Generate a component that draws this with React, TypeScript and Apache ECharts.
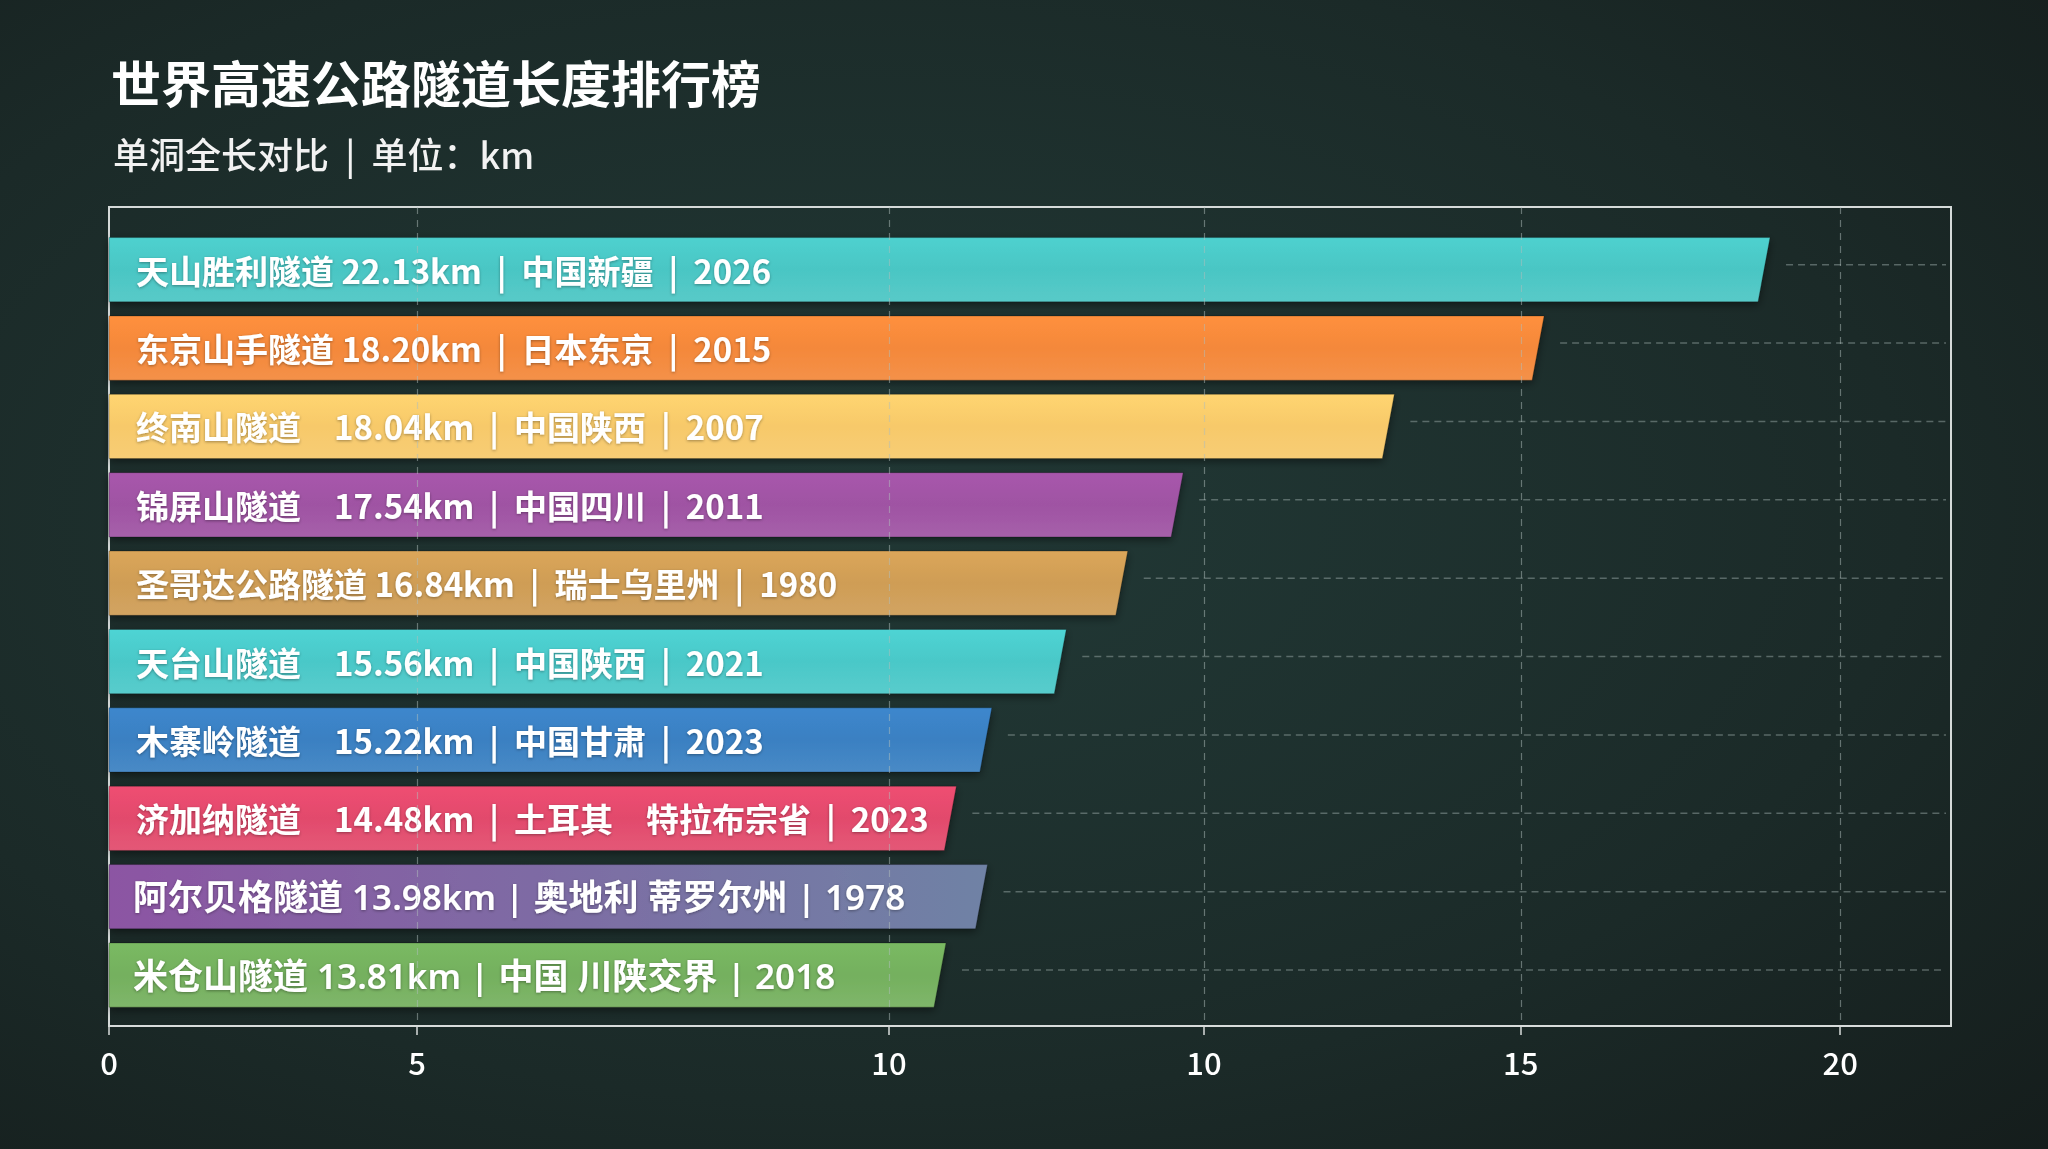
import React, { useEffect, useRef } from 'react';
import * as echarts from 'echarts';

const tunnelNames = ['天山胜利隧道', '东京山手隧道', '终南山隧道', '锦屏山隧道', '圣哥达公路隧道', '天台山隧道', '木寨岭隧道', '济加纳隧道', '阿尔贝格隧道', '米仓山隧道'];
const lengthLabels = ['22.13km', '18.20km', '18.04km', '17.54km', '16.84km', '15.56km', '15.22km', '14.48km', '13.98km', '13.81km'];
const locations = ['中国新疆', '日本东京', '中国陕西', '中国四川', '瑞士乌里州', '中国陕西', '中国甘肃', '土耳其　特拉布宗省', '奥地利 蒂罗尔州', '中国 川陕交界'];
const years = ['2026', '2015', '2007', '2011', '1980', '2021', '2023', '2023', '1978', '2018'];
// bar lengths as drawn in the picture, read against the x axis
const barValues = [19.12, 16.51, 14.78, 12.34, 11.7, 10.99, 10.13, 9.72, 10.08, 9.6];
const barColors = ['#4ac6c4', '#f4883a', '#f7c96a', '#9f53a3', '#cf9d55', '#4ac8c8', '#3a80c2', '#e24a6c', ['#8c55a3', '#6f82a5'], '#74b05e'];
const nameGaps = [' ', ' ', '　', '　', ' ', '　', '　', '　', ' ', ' '];
// axis ticks (positions on the x scale) and their printed labels
const tickPositions = [0, 3.56, 9.01, 12.65, 16.31, 20];
const tickLabels = ['0', '5', '10', '10', '15', '20'];
const xMax = 21.28;

const TITLE = '世界高速公路隧道长度排行榜';
const SUBTITLE = '单洞全长对比  |  单位：km';

export default function App() {
  const ref = useRef<HTMLDivElement>(null);
  useEffect(() => {
    if (!ref.current) return;
    const chart = echarts.init(ref.current, undefined, { renderer: 'svg' });
    const data = barValues.map((v, i) => [v, i]);
    const cjk = "'Noto Sans CJK SC', 'Noto Sans', sans-serif";
    const option: any = {
      animation: false,
      backgroundColor: {
        type: 'radial', x: 0.42, y: 0.45, r: 0.85,
        colorStops: [
          { offset: 0, color: '#223a37' },
          { offset: 0.6, color: '#1b2a28' },
          { offset: 1, color: '#141b1a' },
        ],
      },
      title: [
        { text: TITLE, left: 106, top: 51, textStyle: { color: '#ffffff', fontSize: 50, fontWeight: 'bold', fontFamily: cjk } },
        { text: SUBTITLE, left: 108, top: 130, textStyle: { color: '#f2f2f2', fontSize: 36, fontWeight: 500, fontFamily: cjk } },
      ],
      grid: {
        left: 109, right: 97, top: 207, bottom: 123,
        show: true, borderColor: '#d5dad9', borderWidth: 2, backgroundColor: 'transparent',
        outerBoundsMode: 'none',
      },
      xAxis: {
        type: 'value', min: 0, max: xMax,
        axisLine: { show: true, onZero: false, lineStyle: { color: '#d8dcdb', width: 2 } },
        axisTick: { show: true, customValues: tickPositions, length: 9, lineStyle: { color: '#d8dcdb', width: 1.5 } },
        axisLabel: {
          show: true, customValues: tickPositions, margin: 20, color: '#ffffff', fontSize: 31, fontWeight: 500, fontFamily: cjk,
          formatter: (val: number) => {
            let best = 0;
            tickPositions.forEach((p, k) => { if (Math.abs(p - val) < Math.abs(tickPositions[best] - val)) best = k; });
            return tickLabels[best];
          },
        },
        splitLine: { show: false },
      },
      yAxis: { type: 'value', inverse: true, min: -0.8, max: 9.65, show: false, axisLine: { show: false, onZero: false }, splitLine: { show: false } },
      series: [
        {
          type: 'line', data: [], z: 1, silent: true,
          markLine: {
            silent: true, symbol: ['none', 'none'], label: { show: false },
            lineStyle: { color: 'rgba(175,190,187,0.5)', type: [7, 6], width: 1.2 },
            data: tickPositions.filter((p) => p > 0).map((p) => ({ xAxis: p })),
          },
        },
        {
          type: 'custom', z: 2, data, silent: true,
          renderItem: (params: any, api: any) => {
            const i = api.value(1);
            const v = api.value(0);
            const end = api.coord([v, i]);
            const cs = params.coordSys;
            const right = cs.x + cs.width;
            return {
              type: 'polyline',
              shape: { points: [[end[0] + 22, end[1] - 5], [right - 5, end[1] - 5]] },
              style: { stroke: 'rgba(150,166,163,0.5)', fill: null, lineWidth: 1.5, lineDash: [7, 5] },
            };
          },
        },
        {
          type: 'custom', z: 3, data,
          renderItem: (params: any, api: any) => {
            const i = api.value(1);
            const v = api.value(0);
            const start = api.coord([0, i]);
            const end = api.coord([v, i]);
            const unit = api.size([0, 1])[1];
            const h = unit * 0.82;
            const top = end[1] - h / 2;
            const bot = end[1] + h / 2;
            const slant = 6;
            const c = barColors[i];
            const fill = Array.isArray(c)
              ? new echarts.graphic.LinearGradient(0, 0, 1, 0, [{ offset: 0, color: c[0] }, { offset: 1, color: c[1] }])
              : new echarts.graphic.LinearGradient(0, 0, 0, 1, [
                  { offset: 0, color: echarts.color.lift(c, -0.06) },
                  { offset: 0.5, color: c },
                  { offset: 1, color: echarts.color.lift(c, 0.08) },
                ]);
            const wide = i >= 8;
            const sep = wide ? ' | ' : '  |  ';
            const text = tunnelNames[i] + nameGaps[i] + lengthLabels[i] + sep + locations[i] + sep + years[i];
            return {
              type: 'group',
              children: [
                {
                  type: 'polygon',
                  shape: { points: [[start[0], top], [end[0] + slant, top], [end[0] - slant, bot], [start[0], bot]] },
                  style: { fill, shadowBlur: 8, shadowColor: 'rgba(0,0,0,0.45)', shadowOffsetY: 3, stroke: 'rgba(0,0,0,0.25)', lineWidth: 1 },
                  z2: 1,
                },
                {
                  type: 'text',
                  x: start[0] + (wide ? 24 : 27),
                  y: end[1],
                  style: {
                    text,
                    fill: '#ffffff',
                    fontSize: wide ? 35 : 33,
                    fontWeight: wide ? 600 : 'bold',
                    fontFamily: wide ? "'Noto Sans', 'Noto Sans CJK SC', sans-serif" : cjk,
                    verticalAlign: 'middle',
                    align: 'left',
                    textShadowColor: 'rgba(0,0,0,0.35)',
                    textShadowBlur: 3,
                    textShadowOffsetY: 1,
                  },
                  z2: 2,
                },
              ],
            };
          },
        },
      ],
    };
    chart.setOption(option);
    return () => chart.dispose();
  }, []);
  return <div ref={ref} style={{ position: 'fixed', left: 0, top: 0, width: 2048, height: 1149 }} />;
}
